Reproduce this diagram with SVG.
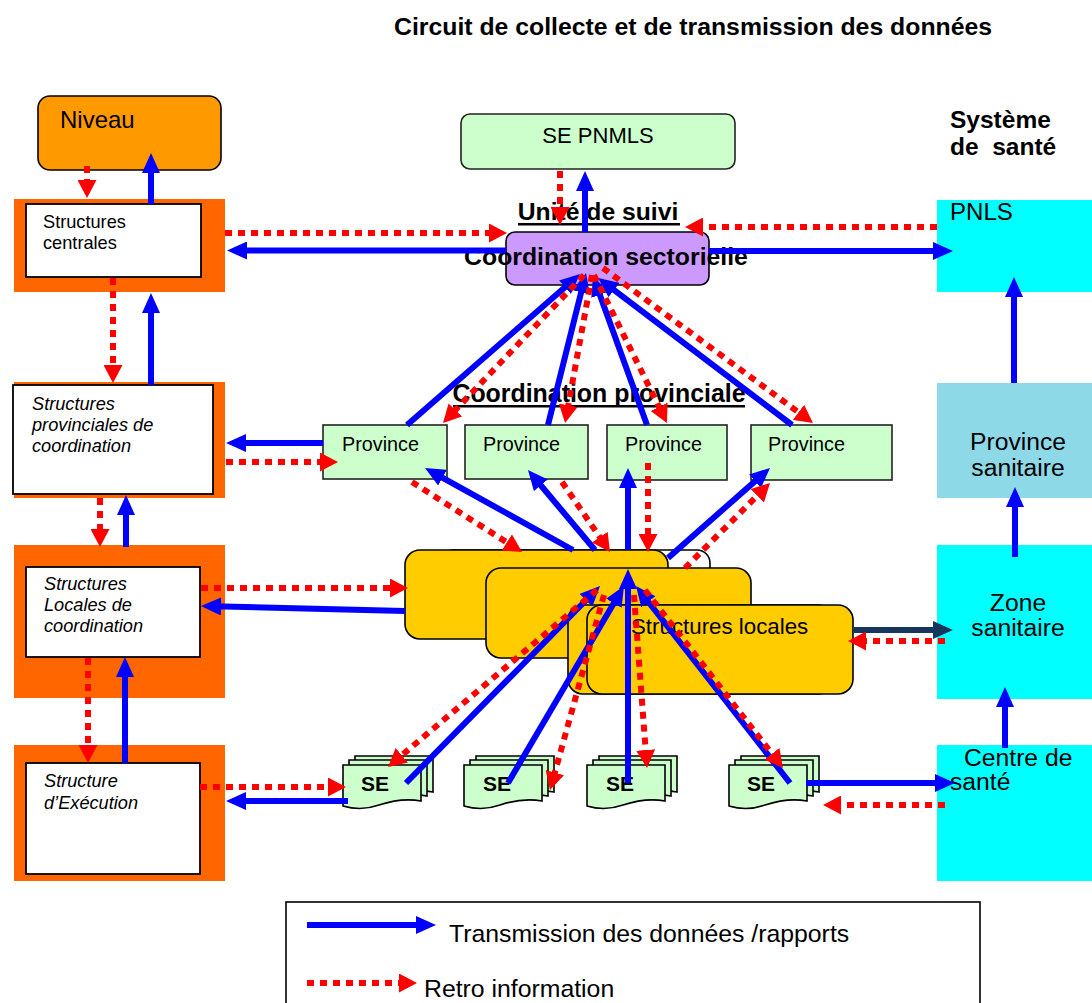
<svg xmlns="http://www.w3.org/2000/svg" xmlns:xlink="http://www.w3.org/1999/xlink" width="1092" height="1003" viewBox="0 0 1092 1003">
<style>
text{font-family:"Liberation Sans",Arial,sans-serif;fill:#000}
.bold{font-weight:bold}
.it{font-style:italic}
.org{fill:#FF6600}
.wbox{fill:#FFFFFF;stroke:#000;stroke-width:1.8}
.green{fill:#CCFFCC;stroke:#222;stroke-width:1.6}
.yel{fill:#FFCC00;stroke:#000;stroke-width:1.6}
.cyan{fill:#00FFFF}
.doc{fill:#CCFFCC;stroke:#000;stroke-width:1.6}
.b{stroke:#0000FF;stroke-width:6;fill:none;marker-end:url(#ab)}
.n{stroke:#17365D;stroke-width:6;fill:none;marker-end:url(#an)}
.r{stroke:#FF0000;stroke-width:6;stroke-dasharray:7 6;fill:none;marker-end:url(#ar)}
</style>
<defs>
<marker id="ab" markerUnits="userSpaceOnUse" markerWidth="20" markerHeight="18" refX="8" refY="9" orient="auto" viewBox="0 0 20 18"><path d="M0,0 L20,9 L0,18 z" fill="#0000FF"/></marker>
<marker id="an" markerUnits="userSpaceOnUse" markerWidth="20" markerHeight="18" refX="8" refY="9" orient="auto" viewBox="0 0 20 18"><path d="M0,0 L20,9 L0,18 z" fill="#17365D"/></marker>
<marker id="ar" markerUnits="userSpaceOnUse" markerWidth="18" markerHeight="19" refX="6" refY="9.5" orient="auto" viewBox="0 0 18 19"><path d="M0,0 L18,9.5 L0,19 z" fill="#FF0000"/></marker>
<path id="doc" d="M0,0 H78 V36 C62,33 48,36 36,40 C22,45 10,44 0,41 Z"/>
</defs>

<text id="title" x="394" y="35" class="bold" font-size="24.8">Circuit de collecte et de transmission des données</text>

<g id="niveau">
<rect x="38" y="96" width="183" height="74" rx="12" fill="#FF9900" stroke="#000" stroke-width="1.6"/>
<text x="60" y="128" font-size="24">Niveau</text>
</g>

<g id="structures-centrales">
<rect x="14" y="199" width="211" height="93" class="org"/>
<rect x="26" y="204" width="175" height="73" class="wbox"/>
<text x="43" y="228" font-size="18.2">Structures</text>
<text x="43" y="249" font-size="18.2">centrales</text>
</g>

<g id="structures-provinciales">
<rect x="14" y="382" width="211" height="116" class="org"/>
<rect x="13" y="385" width="200" height="109" class="wbox"/>
<text x="32" y="410" font-size="18.2" class="it">Structures</text>
<text x="32" y="431" font-size="18.2" class="it">provinciales de</text>
<text x="32" y="452" font-size="18.2" class="it">coordination</text>
</g>

<g id="structures-locales-coord">
<rect x="14" y="545" width="211" height="153" class="org"/>
<rect x="26" y="567" width="174" height="90" class="wbox"/>
<text x="44" y="590" font-size="18.2" class="it">Structures</text>
<text x="44" y="611" font-size="18.2" class="it">Locales de</text>
<text x="44" y="632" font-size="18.2" class="it">coordination</text>
</g>

<g id="structure-execution">
<rect x="14" y="745" width="211" height="136" class="org"/>
<rect x="26" y="763" width="174" height="111" class="wbox"/>
<text x="44" y="787" font-size="18.2" class="it">Structure</text>
<text x="44" y="809" font-size="18.2" class="it">d’Exécution</text>
</g>

<g id="se-pnmls">
<rect x="461" y="114" width="274" height="55" rx="9" fill="#CCFFCC" stroke="#222" stroke-width="1.6"/>
<text x="598" y="143" font-size="22" text-anchor="middle">SE PNMLS</text>
</g>

<g id="coordination-sectorielle">
<text x="598" y="220" font-size="24.7" class="bold" text-anchor="middle">Unité de suivi</text>
<rect x="518" y="223" width="162" height="2.5" fill="#000"/>
<rect x="506" y="232" width="203" height="53" rx="9" fill="#CC99FF" stroke="#000" stroke-width="1.6"/>
<text x="606" y="265" font-size="24.8" class="bold" text-anchor="middle">Coordination sectorielle</text>
</g>

<g id="coordination-provinciale">
<text x="599" y="402" font-size="24.9" class="bold" text-anchor="middle">Coordination provinciale</text>
<rect x="453" y="405" width="292" height="2.5" fill="#000"/>
</g>

<g id="province-1">
<rect x="323" y="425" width="124" height="54" class="green"/>
<text x="342" y="451" font-size="19.8">Province</text>
</g>
<g id="province-2">
<rect x="465" y="425" width="123" height="54" class="green"/>
<text x="483" y="451" font-size="19.8">Province</text>
</g>
<g id="province-3">
<rect x="607" y="425" width="120" height="55" class="green"/>
<text x="625" y="451" font-size="19.8">Province</text>
</g>
<g id="province-4">
<rect x="751" y="425" width="141" height="55" class="green"/>
<text x="768" y="451" font-size="19.8">Province</text>
</g>

<g id="structures-locales">
<rect x="440" y="550" width="270" height="70" rx="13" fill="#FFFFFF" stroke="#000" stroke-width="1.6"/>
<rect x="405" y="550" width="263" height="89" rx="15" class="yel"/>
<rect x="486" y="568" width="265" height="90" rx="15" class="yel"/>
<rect x="568" y="605" width="265" height="89" rx="15" class="yel"/>
<rect x="587" y="605" width="266" height="89" rx="15" class="yel"/>
<text x="631" y="634" font-size="22.3">Structures locales</text>
</g>

<g id="se-1">
<use xlink:href="#doc" x="355" y="756" class="doc"/>
<use xlink:href="#doc" x="349" y="760" class="doc"/>
<use xlink:href="#doc" x="343" y="765" class="doc"/>
<text x="361" y="791" font-size="21" class="bold">SE</text>
</g>
<g id="se-2">
<use xlink:href="#doc" x="476" y="756" class="doc"/>
<use xlink:href="#doc" x="470" y="760" class="doc"/>
<use xlink:href="#doc" x="464" y="765" class="doc"/>
<text x="483" y="791" font-size="21" class="bold">SE</text>
</g>
<g id="se-3">
<use xlink:href="#doc" x="599" y="756" class="doc"/>
<use xlink:href="#doc" x="593" y="760" class="doc"/>
<use xlink:href="#doc" x="587" y="765" class="doc"/>
<text x="606" y="791" font-size="21" class="bold">SE</text>
</g>
<g id="se-4">
<use xlink:href="#doc" x="741" y="756" class="doc"/>
<use xlink:href="#doc" x="735" y="760" class="doc"/>
<use xlink:href="#doc" x="729" y="765" class="doc"/>
<text x="747" y="791" font-size="21" class="bold">SE</text>
</g>

<g id="systeme-sante">
<text x="950" y="128" font-size="24.5" class="bold">Système</text>
<text x="950" y="155" font-size="24.5" class="bold" style="white-space:pre" xml:space="preserve">de  santé</text>
</g>

<g id="pnls">
<rect x="937" y="200" width="155" height="92" class="cyan"/>
<text x="950" y="220" font-size="24.1">PNLS</text>
</g>
<g id="province-sanitaire">
<rect x="937" y="383" width="155" height="115" fill="#8ED9E7"/>
<text x="1018" y="450" font-size="24.7" text-anchor="middle">Province</text>
<text x="1018" y="476" font-size="24.7" text-anchor="middle">sanitaire</text>
</g>
<g id="zone-sanitaire">
<rect x="937" y="545" width="155" height="154" class="cyan"/>
<text x="1018" y="611" font-size="24.7" text-anchor="middle">Zone</text>
<text x="1018" y="636" font-size="24.7" text-anchor="middle">sanitaire</text>
</g>
<g id="centre-sante">
<rect x="937" y="745" width="155" height="136" class="cyan"/>
<text x="964" y="766" font-size="24.7">Centre de</text>
<text x="950" y="790" font-size="24.7">santé</text>
</g>

<g id="connectors">
<line class="b" x1="506" y1="250.5" x2="239" y2="250.5"/>
<line class="b" x1="709" y1="251" x2="941" y2="251"/>
<line class="b" x1="585" y1="232" x2="585" y2="183"/>
<line class="b" x1="151" y1="204" x2="151" y2="165"/>
<line class="b" x1="151" y1="385" x2="151" y2="305"/>
<line class="b" x1="126" y1="547" x2="126" y2="507"/>
<line class="b" x1="125" y1="763" x2="125" y2="669"/>
<line class="b" x1="323" y1="443" x2="238" y2="443"/>
<line class="b" x1="407" y1="425" x2="571" y2="281.9"/>
<line class="b" x1="548" y1="425" x2="583.1" y2="284.6"/>
<line class="b" x1="647" y1="425" x2="597.1" y2="287.3"/>
<line class="b" x1="792" y1="425" x2="607.6" y2="285.2"/>
<line class="b" x1="573" y1="550" x2="435.5" y2="473.8"/>
<line class="b" x1="595" y1="550" x2="535.7" y2="479.2"/>
<line class="b" x1="628" y1="550" x2="628" y2="480"/>
<line class="b" x1="668" y1="558" x2="761" y2="475.9"/>
<line class="b" x1="405" y1="611" x2="213" y2="606.3"/>
<line class="b" x1="406" y1="783" x2="591.6" y2="594.5"/>
<line class="b" x1="508" y1="783" x2="617.9" y2="596.3"/>
<line class="b" x1="628" y1="783" x2="628" y2="581"/>
<line class="b" x1="790" y1="783" x2="643.4" y2="595.5"/>
<line class="b" x1="348" y1="801" x2="238" y2="801"/>
<line class="b" x1="806" y1="783" x2="943" y2="783"/>
<line class="b" x1="1014" y1="383" x2="1014" y2="289"/>
<line class="b" x1="1015" y1="557" x2="1015" y2="499"/>
<line class="b" x1="1005" y1="748" x2="1005" y2="699"/>
<line class="n" x1="853" y1="630" x2="941" y2="630"/>

<line class="r" x1="87" y1="166" x2="87" y2="186"/>
<line class="r" x1="113" y1="278" x2="113" y2="371"/>
<line class="r" x1="100" y1="498" x2="100" y2="535"/>
<line class="r" x1="88" y1="658" x2="88" y2="751"/>
<line class="r" x1="560" y1="171" x2="560" y2="213"/>
<line class="r" x1="225" y1="233" x2="495" y2="233"/>
<line class="r" x1="937" y1="227" x2="697" y2="227"/>
<line class="r" x1="226" y1="462" x2="326" y2="462"/>
<line class="r" x1="584" y1="275" x2="451.3" y2="414.3"/>
<line class="r" x1="592" y1="275" x2="567.2" y2="411.2"/>
<line class="r" x1="594" y1="275" x2="661.7" y2="412.2"/>
<line class="r" x1="603" y1="268" x2="803.3" y2="415.9"/>
<line class="r" x1="412" y1="482" x2="511.9" y2="545.6"/>
<line class="r" x1="562" y1="482" x2="603.2" y2="542.1"/>
<line class="r" x1="648" y1="463" x2="648" y2="540"/>
<line class="r" x1="685" y1="568" x2="761.5" y2="491.5"/>
<line class="r" x1="201" y1="588" x2="396" y2="588"/>
<line class="r" x1="597" y1="590" x2="397.2" y2="759.2"/>
<line class="r" x1="604" y1="595" x2="553.2" y2="778.4"/>
<line class="r" x1="634" y1="595" x2="646.1" y2="756"/>
<line class="r" x1="645" y1="590" x2="775.6" y2="758.5"/>
<line class="r" x1="200" y1="787" x2="334" y2="787"/>
<line class="r" x1="945" y1="641" x2="860" y2="641"/>
<line class="r" x1="945" y1="805" x2="835" y2="805"/>
</g>

<g id="legend">
<rect x="286" y="902" width="694" height="120" fill="#FFFFFF" stroke="#000" stroke-width="1.6"/>
<line class="b" x1="307" y1="925" x2="424" y2="925"/>
<text x="449" y="942" font-size="24.8">Transmission des données /rapports</text>
<line class="r" x1="307" y1="983" x2="405" y2="983"/>
<text x="424" y="997" font-size="24.8">Retro information</text>
</g>
</svg>
